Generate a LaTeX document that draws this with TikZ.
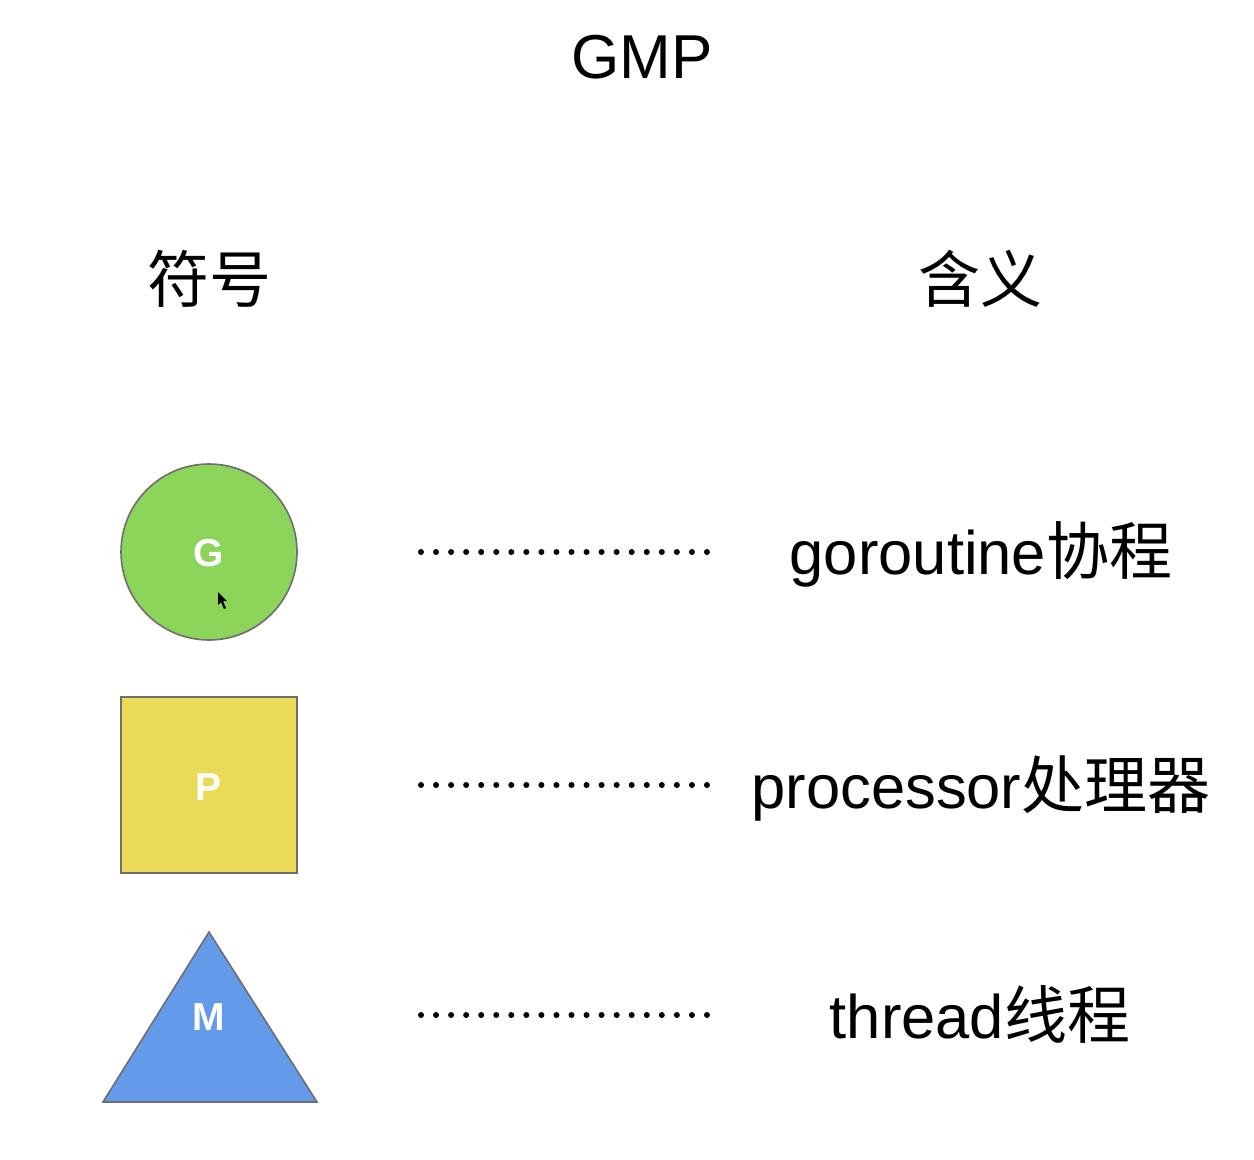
\documentclass[tikz,border=0pt]{standalone}
\usepackage{fontspec}
\setmainfont{Liberation Sans}
\newfontfamily\cjk{Noto Sans CJK SC}
\definecolor{gfill}{RGB}{140,212,90}
\definecolor{pfill}{RGB}{234,218,88}
\definecolor{mfill}{RGB}{99,155,234}
\definecolor{edge}{RGB}{110,110,110}
\begin{document}
\begin{tikzpicture}[x=1pt,y=-1pt,
  shapebox/.style={draw=edge,line width=1.6pt,inner sep=0pt},
  letter/.style={text=white,font=\fontsize{39}{42}\selectfont\bfseries},
  heading/.style={anchor=base,font=\fontsize{62}{70}\selectfont\cjk},
  desc/.style={anchor=base,font=\fontsize{61.5}{70}\selectfont},
  dotline/.style={line width=6pt,line cap=round,dash pattern=on 0pt off 15.05pt}]
\useasboundingbox[fill=white] (0,0) rectangle (1254,1160);
% title and headings
\node[anchor=base,font=\fontsize{62}{70}\selectfont] (title) at (642,78) {GMP};
\node[heading] (hsym) at (209,302) {符号};
\node[heading] (hmean) at (980,302) {含义};
% symbols
\node[shapebox,circle,fill=gfill,minimum size=176pt] (G) at (209,552) {};
\node[letter] (Gl) at (209,553) {G};
\node[shapebox,rectangle,fill=pfill,minimum size=176pt] (P) at (209,785) {};
\node[letter] (Pl) at (209,787) {P};
\coordinate (Mtop) at (209,932);
\coordinate (Mleft) at (103,1102);
\coordinate (Mright) at (317,1102);
\draw[draw=edge,line width=1.6pt,line join=miter,fill=mfill] (Mtop) -- (Mright) -- (Mleft) -- cycle;
\node[letter] (Ml) at (209,1017) {M};
% mouse cursor
\fill[black] (218,592) -- (218,605) -- (221,602) -- (224,609) -- (226,608) -- (223,601) -- (227,601) -- cycle;
% dotted connectors
\coordinate (g1) at (421,552); \coordinate (g2) at (707,552);
\coordinate (p1) at (421,785); \coordinate (p2) at (707,785);
\coordinate (m1) at (421,1015); \coordinate (m2) at (707,1015);
\draw[dotline] (g1) -- (g2);
\draw[dotline] (p1) -- (p2);
\draw[dotline] (m1) -- (m2);
% meanings
\node[desc] (gdesc) at (981,574) {goroutine{\cjk\fontsize{63}{70}\selectfont 协程}};
\node[desc] (pdesc) at (981,808) {processor{\cjk\fontsize{63}{70}\selectfont 处理器}};
\node[desc] (mdesc) at (980,1038) {thread{\cjk\fontsize{63}{70}\selectfont 线程}};
\end{tikzpicture}
\end{document}
